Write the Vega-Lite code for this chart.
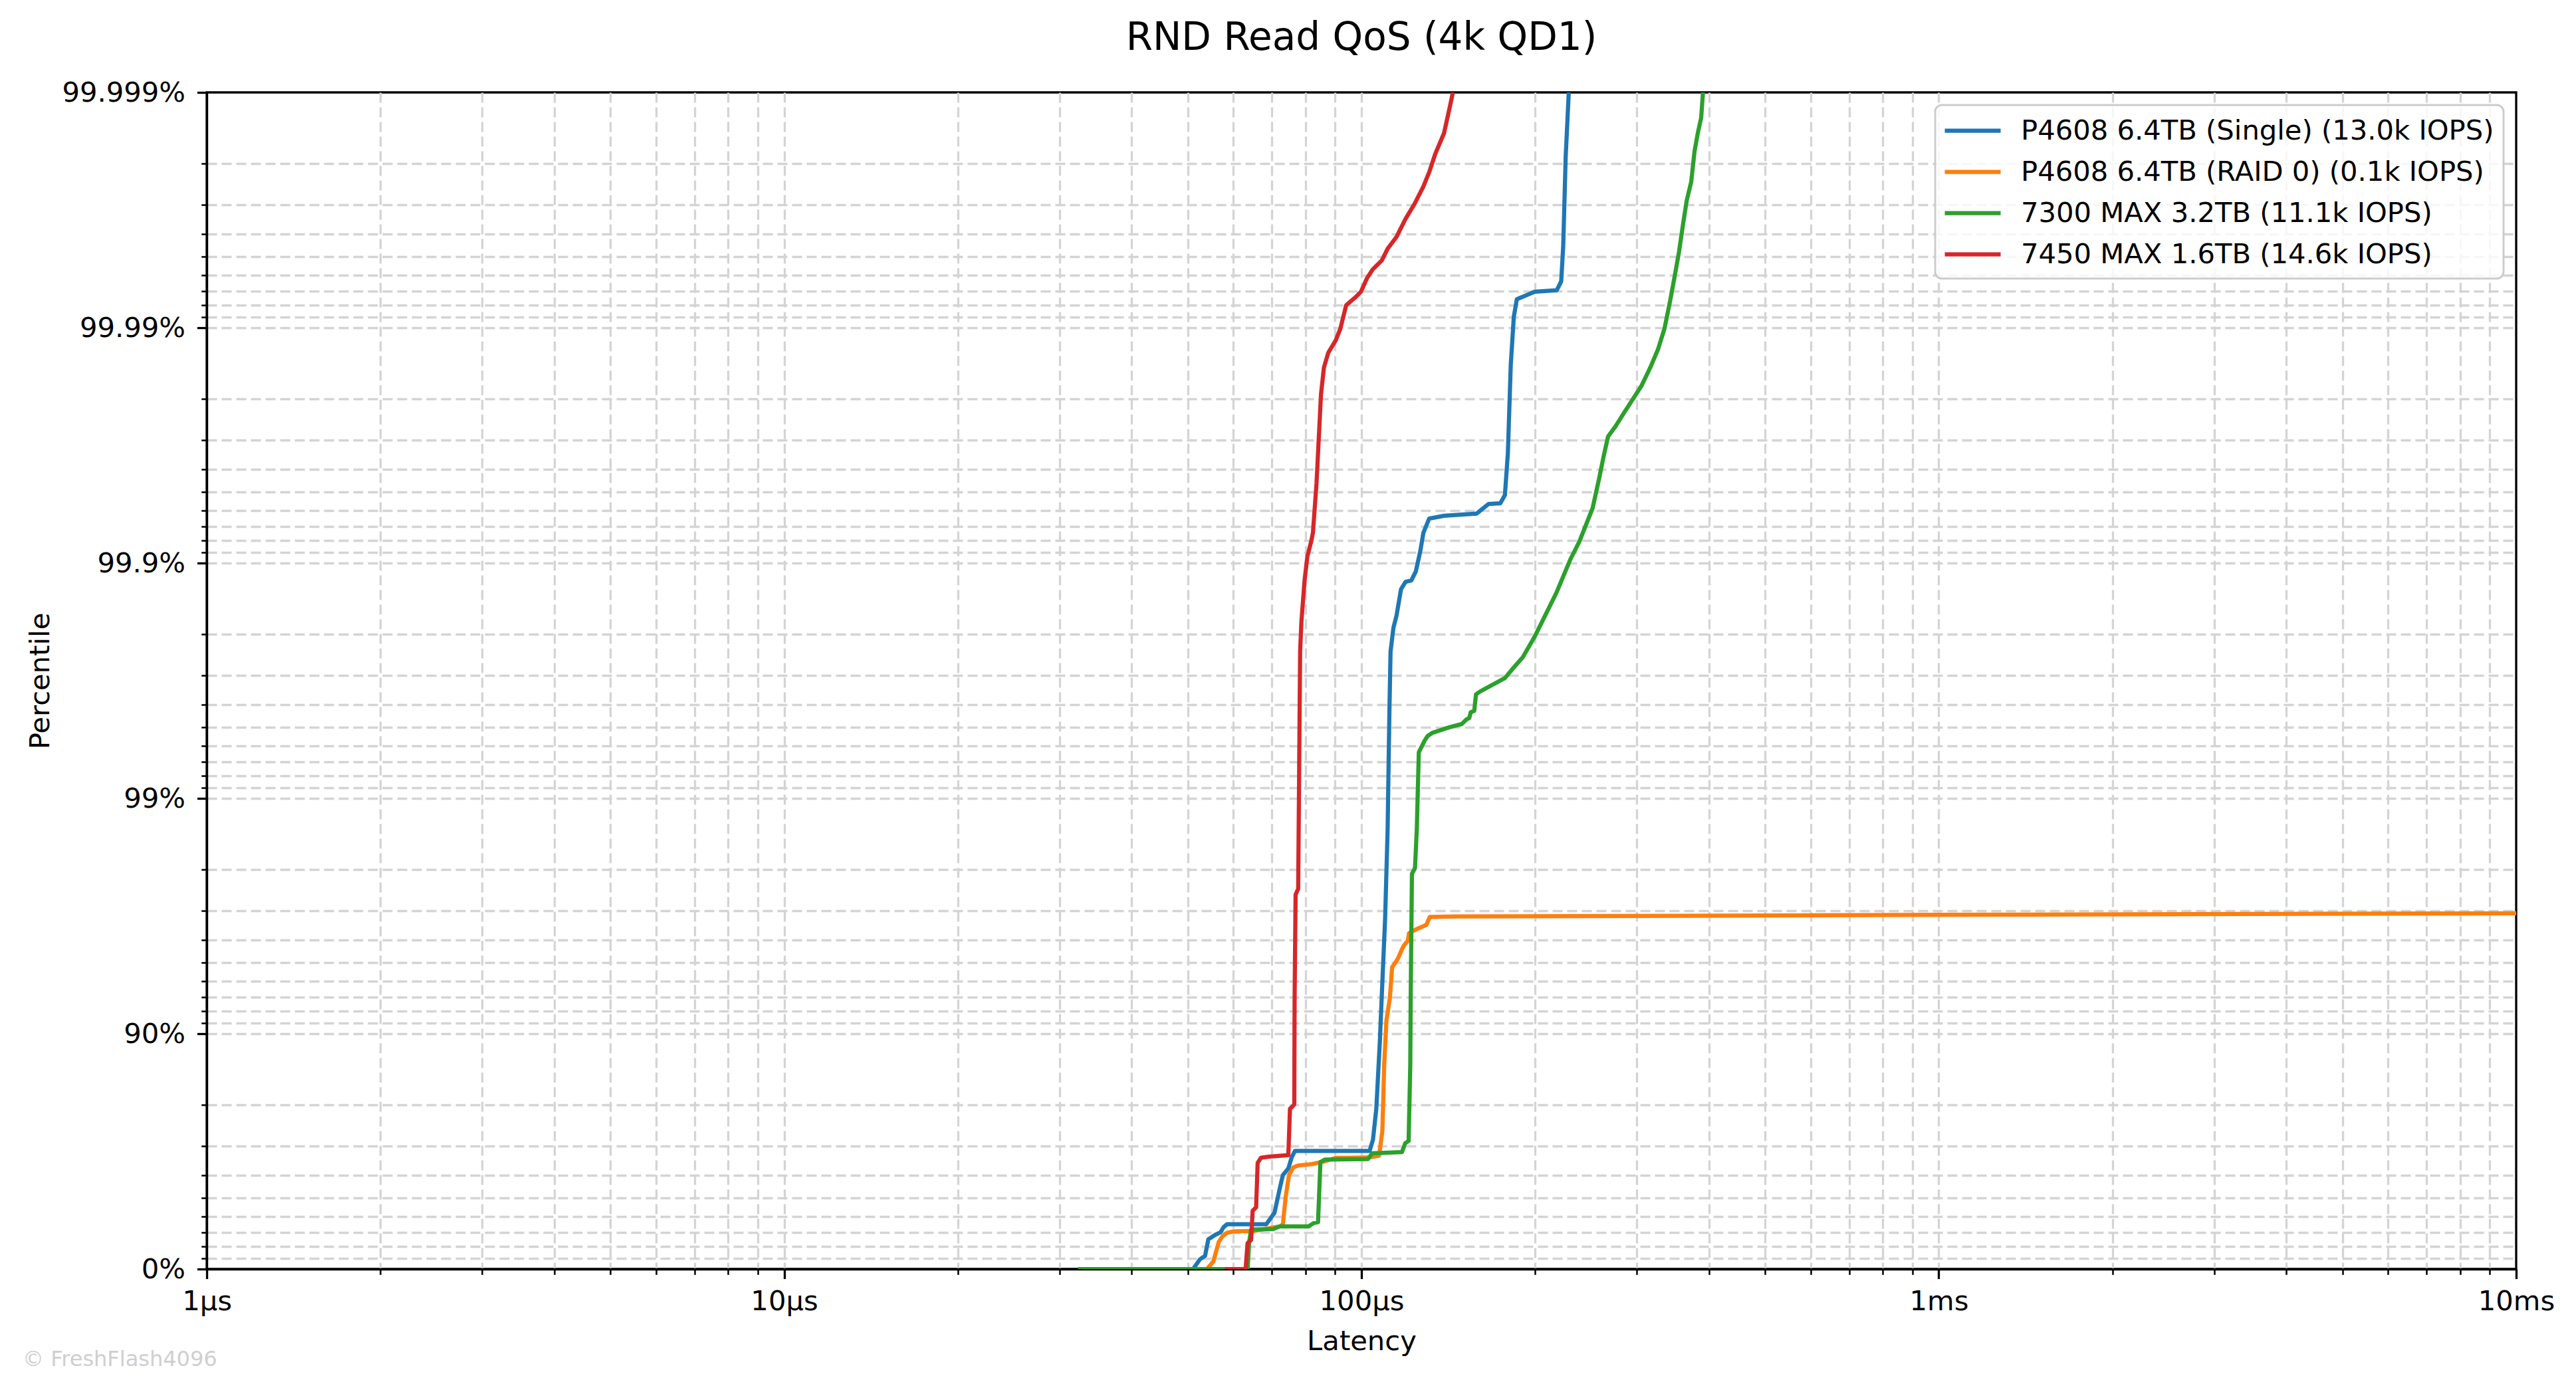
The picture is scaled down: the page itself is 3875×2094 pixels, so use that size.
{
  "$schema": "https://vega.github.io/schema/vega-lite/v6.json",
  "padding": {"left": 32, "top": 29, "right": 0, "bottom": 0},
  "background": "white",
  "title": {
    "text": "RND Read QoS (4k QD1)",
    "font": "DejaVu Sans",
    "fontSize": 58,
    "fontWeight": "normal",
    "color": "black",
    "baseline": "alphabetic",
    "anchor": "middle",
    "frame": "group",
    "offset": -16
  },
  "config": {
    "font": "DejaVu Sans",
    "view": {"stroke": "black", "strokeWidth": 3.3},
    "axis": {
      "labelFont": "DejaVu Sans",
      "labelFontSize": 41.7,
      "labelColor": "black",
      "labelLimit": 500,
      "titleFont": "DejaVu Sans",
      "titleFontSize": 41.7,
      "titleFontWeight": "normal",
      "titleColor": "black",
      "domainColor": "black",
      "domainWidth": 3.3,
      "tickColor": "black",
      "grid": true,
      "gridColor": "#d4d4d4",
      "gridDash": [15, 7],
      "gridWidth": 3.3,
      "labelOverlap": false,
      "labelFlush": false,
      "labelBound": false
    },
    "legend": {
      "labelFont": "DejaVu Sans",
      "labelFontSize": 41.7,
      "labelColor": "black",
      "labelLimit": 2000,
      "strokeWidth": 3
    }
  },
  "datasets": {
    "qos": [
      {"drive": "P4608 6.4TB (Single) (13.0k IOPS)", "us": 40, "nines": 0},
      {"drive": "P4608 6.4TB (Single) (13.0k IOPS)", "us": 51.1, "nines": 0},
      {"drive": "P4608 6.4TB (Single) (13.0k IOPS)", "us": 52.5, "nines": 0.041},
      {"drive": "P4608 6.4TB (Single) (13.0k IOPS)", "us": 53.6, "nines": 0.056},
      {"drive": "P4608 6.4TB (Single) (13.0k IOPS)", "us": 54.3, "nines": 0.126},
      {"drive": "P4608 6.4TB (Single) (13.0k IOPS)", "us": 55.8, "nines": 0.145},
      {"drive": "P4608 6.4TB (Single) (13.0k IOPS)", "us": 57.0, "nines": 0.156},
      {"drive": "P4608 6.4TB (Single) (13.0k IOPS)", "us": 57.7, "nines": 0.178},
      {"drive": "P4608 6.4TB (Single) (13.0k IOPS)", "us": 58.5, "nines": 0.19},
      {"drive": "P4608 6.4TB (Single) (13.0k IOPS)", "us": 68.4, "nines": 0.19},
      {"drive": "P4608 6.4TB (Single) (13.0k IOPS)", "us": 70.7, "nines": 0.239},
      {"drive": "P4608 6.4TB (Single) (13.0k IOPS)", "us": 72.2, "nines": 0.343},
      {"drive": "P4608 6.4TB (Single) (13.0k IOPS)", "us": 73.1, "nines": 0.399},
      {"drive": "P4608 6.4TB (Single) (13.0k IOPS)", "us": 74.7, "nines": 0.427},
      {"drive": "P4608 6.4TB (Single) (13.0k IOPS)", "us": 75.7, "nines": 0.474},
      {"drive": "P4608 6.4TB (Single) (13.0k IOPS)", "us": 76.7, "nines": 0.502},
      {"drive": "P4608 6.4TB (Single) (13.0k IOPS)", "us": 103.3, "nines": 0.502},
      {"drive": "P4608 6.4TB (Single) (13.0k IOPS)", "us": 104.7, "nines": 0.55},
      {"drive": "P4608 6.4TB (Single) (13.0k IOPS)", "us": 106.1, "nines": 0.681},
      {"drive": "P4608 6.4TB (Single) (13.0k IOPS)", "us": 107.6, "nines": 0.964},
      {"drive": "P4608 6.4TB (Single) (13.0k IOPS)", "us": 108.4, "nines": 1.152},
      {"drive": "P4608 6.4TB (Single) (13.0k IOPS)", "us": 109.9, "nines": 1.49},
      {"drive": "P4608 6.4TB (Single) (13.0k IOPS)", "us": 111.0, "nines": 1.868},
      {"drive": "P4608 6.4TB (Single) (13.0k IOPS)", "us": 111.8, "nines": 2.372},
      {"drive": "P4608 6.4TB (Single) (13.0k IOPS)", "us": 112.3, "nines": 2.624},
      {"drive": "P4608 6.4TB (Single) (13.0k IOPS)", "us": 113.6, "nines": 2.725},
      {"drive": "P4608 6.4TB (Single) (13.0k IOPS)", "us": 115.0, "nines": 2.776},
      {"drive": "P4608 6.4TB (Single) (13.0k IOPS)", "us": 117.1, "nines": 2.889},
      {"drive": "P4608 6.4TB (Single) (13.0k IOPS)", "us": 119.2, "nines": 2.92},
      {"drive": "P4608 6.4TB (Single) (13.0k IOPS)", "us": 122.0, "nines": 2.926},
      {"drive": "P4608 6.4TB (Single) (13.0k IOPS)", "us": 124.2, "nines": 2.964},
      {"drive": "P4608 6.4TB (Single) (13.0k IOPS)", "us": 126.5, "nines": 3.053},
      {"drive": "P4608 6.4TB (Single) (13.0k IOPS)", "us": 128.0, "nines": 3.128},
      {"drive": "P4608 6.4TB (Single) (13.0k IOPS)", "us": 131.0, "nines": 3.189},
      {"drive": "P4608 6.4TB (Single) (13.0k IOPS)", "us": 139.0, "nines": 3.201},
      {"drive": "P4608 6.4TB (Single) (13.0k IOPS)", "us": 158.3, "nines": 3.21},
      {"drive": "P4608 6.4TB (Single) (13.0k IOPS)", "us": 161.2, "nines": 3.226},
      {"drive": "P4608 6.4TB (Single) (13.0k IOPS)", "us": 166.0, "nines": 3.251},
      {"drive": "P4608 6.4TB (Single) (13.0k IOPS)", "us": 174.0, "nines": 3.254},
      {"drive": "P4608 6.4TB (Single) (13.0k IOPS)", "us": 177.2, "nines": 3.289},
      {"drive": "P4608 6.4TB (Single) (13.0k IOPS)", "us": 179.3, "nines": 3.466},
      {"drive": "P4608 6.4TB (Single) (13.0k IOPS)", "us": 181.4, "nines": 3.844},
      {"drive": "P4608 6.4TB (Single) (13.0k IOPS)", "us": 183.6, "nines": 4.046},
      {"drive": "P4608 6.4TB (Single) (13.0k IOPS)", "us": 185.8, "nines": 4.121},
      {"drive": "P4608 6.4TB (Single) (13.0k IOPS)", "us": 199.5, "nines": 4.153},
      {"drive": "P4608 6.4TB (Single) (13.0k IOPS)", "us": 217.9, "nines": 4.159},
      {"drive": "P4608 6.4TB (Single) (13.0k IOPS)", "us": 221.8, "nines": 4.197},
      {"drive": "P4608 6.4TB (Single) (13.0k IOPS)", "us": 223.6, "nines": 4.348},
      {"drive": "P4608 6.4TB (Single) (13.0k IOPS)", "us": 225.8, "nines": 4.726},
      {"drive": "P4608 6.4TB (Single) (13.0k IOPS)", "us": 228.5, "nines": 4.991},
      {"drive": "P4608 6.4TB (Single) (13.0k IOPS)", "us": 229.0, "nines": 5.0},

      {"drive": "P4608 6.4TB (RAID 0) (0.1k IOPS)", "us": 45, "nines": 0},
      {"drive": "P4608 6.4TB (RAID 0) (0.1k IOPS)", "us": 54.0, "nines": 0},
      {"drive": "P4608 6.4TB (RAID 0) (0.1k IOPS)", "us": 55.4, "nines": 0.032},
      {"drive": "P4608 6.4TB (RAID 0) (0.1k IOPS)", "us": 56.6, "nines": 0.115},
      {"drive": "P4608 6.4TB (RAID 0) (0.1k IOPS)", "us": 57.4, "nines": 0.138},
      {"drive": "P4608 6.4TB (RAID 0) (0.1k IOPS)", "us": 58.5, "nines": 0.154},
      {"drive": "P4608 6.4TB (RAID 0) (0.1k IOPS)", "us": 60.1, "nines": 0.16},
      {"drive": "P4608 6.4TB (RAID 0) (0.1k IOPS)", "us": 65.2, "nines": 0.162},
      {"drive": "P4608 6.4TB (RAID 0) (0.1k IOPS)", "us": 72.2, "nines": 0.181},
      {"drive": "P4608 6.4TB (RAID 0) (0.1k IOPS)", "us": 73.1, "nines": 0.19},
      {"drive": "P4608 6.4TB (RAID 0) (0.1k IOPS)", "us": 73.9, "nines": 0.305},
      {"drive": "P4608 6.4TB (RAID 0) (0.1k IOPS)", "us": 74.9, "nines": 0.399},
      {"drive": "P4608 6.4TB (RAID 0) (0.1k IOPS)", "us": 76.2, "nines": 0.432},
      {"drive": "P4608 6.4TB (RAID 0) (0.1k IOPS)", "us": 77.7, "nines": 0.44},
      {"drive": "P4608 6.4TB (RAID 0) (0.1k IOPS)", "us": 82.1, "nines": 0.446},
      {"drive": "P4608 6.4TB (RAID 0) (0.1k IOPS)", "us": 86.1, "nines": 0.457},
      {"drive": "P4608 6.4TB (RAID 0) (0.1k IOPS)", "us": 90.2, "nines": 0.472},
      {"drive": "P4608 6.4TB (RAID 0) (0.1k IOPS)", "us": 103.3, "nines": 0.474},
      {"drive": "P4608 6.4TB (RAID 0) (0.1k IOPS)", "us": 107.3, "nines": 0.482},
      {"drive": "P4608 6.4TB (RAID 0) (0.1k IOPS)", "us": 108.7, "nines": 0.587},
      {"drive": "P4608 6.4TB (RAID 0) (0.1k IOPS)", "us": 109.5, "nines": 0.87},
      {"drive": "P4608 6.4TB (RAID 0) (0.1k IOPS)", "us": 110.5, "nines": 1.058},
      {"drive": "P4608 6.4TB (RAID 0) (0.1k IOPS)", "us": 112.0, "nines": 1.152},
      {"drive": "P4608 6.4TB (RAID 0) (0.1k IOPS)", "us": 113.0, "nines": 1.282},
      {"drive": "P4608 6.4TB (RAID 0) (0.1k IOPS)", "us": 115.7, "nines": 1.32},
      {"drive": "P4608 6.4TB (RAID 0) (0.1k IOPS)", "us": 117.5, "nines": 1.358},
      {"drive": "P4608 6.4TB (RAID 0) (0.1k IOPS)", "us": 118.5, "nines": 1.376},
      {"drive": "P4608 6.4TB (RAID 0) (0.1k IOPS)", "us": 120.3, "nines": 1.395},
      {"drive": "P4608 6.4TB (RAID 0) (0.1k IOPS)", "us": 120.9, "nines": 1.427},
      {"drive": "P4608 6.4TB (RAID 0) (0.1k IOPS)", "us": 125.0, "nines": 1.446},
      {"drive": "P4608 6.4TB (RAID 0) (0.1k IOPS)", "us": 129.5, "nines": 1.462},
      {"drive": "P4608 6.4TB (RAID 0) (0.1k IOPS)", "us": 131.3, "nines": 1.496},
      {"drive": "P4608 6.4TB (RAID 0) (0.1k IOPS)", "us": 145.7, "nines": 1.498},
      {"drive": "P4608 6.4TB (RAID 0) (0.1k IOPS)", "us": 1000, "nines": 1.505},
      {"drive": "P4608 6.4TB (RAID 0) (0.1k IOPS)", "us": 10000, "nines": 1.512},

      {"drive": "7300 MAX 3.2TB (11.1k IOPS)", "us": 32.3, "nines": 0},
      {"drive": "7300 MAX 3.2TB (11.1k IOPS)", "us": 63.5, "nines": 0},
      {"drive": "7300 MAX 3.2TB (11.1k IOPS)", "us": 63.9, "nines": 0.115},
      {"drive": "7300 MAX 3.2TB (11.1k IOPS)", "us": 64.4, "nines": 0.168},
      {"drive": "7300 MAX 3.2TB (11.1k IOPS)", "us": 70.3, "nines": 0.17},
      {"drive": "7300 MAX 3.2TB (11.1k IOPS)", "us": 72.2, "nines": 0.181},
      {"drive": "7300 MAX 3.2TB (11.1k IOPS)", "us": 81.0, "nines": 0.181},
      {"drive": "7300 MAX 3.2TB (11.1k IOPS)", "us": 82.6, "nines": 0.195},
      {"drive": "7300 MAX 3.2TB (11.1k IOPS)", "us": 84.1, "nines": 0.199},
      {"drive": "7300 MAX 3.2TB (11.1k IOPS)", "us": 84.9, "nines": 0.455},
      {"drive": "7300 MAX 3.2TB (11.1k IOPS)", "us": 86.4, "nines": 0.465},
      {"drive": "7300 MAX 3.2TB (11.1k IOPS)", "us": 102.6, "nines": 0.467},
      {"drive": "7300 MAX 3.2TB (11.1k IOPS)", "us": 104.4, "nines": 0.492},
      {"drive": "7300 MAX 3.2TB (11.1k IOPS)", "us": 117.5, "nines": 0.497},
      {"drive": "7300 MAX 3.2TB (11.1k IOPS)", "us": 119.1, "nines": 0.535},
      {"drive": "7300 MAX 3.2TB (11.1k IOPS)", "us": 120.7, "nines": 0.544},
      {"drive": "7300 MAX 3.2TB (11.1k IOPS)", "us": 121.5, "nines": 0.87},
      {"drive": "7300 MAX 3.2TB (11.1k IOPS)", "us": 121.7, "nines": 1.152},
      {"drive": "7300 MAX 3.2TB (11.1k IOPS)", "us": 122.3, "nines": 1.679},
      {"drive": "7300 MAX 3.2TB (11.1k IOPS)", "us": 123.8, "nines": 1.704},
      {"drive": "7300 MAX 3.2TB (11.1k IOPS)", "us": 124.7, "nines": 1.868},
      {"drive": "7300 MAX 3.2TB (11.1k IOPS)", "us": 125.7, "nines": 2.196},
      {"drive": "7300 MAX 3.2TB (11.1k IOPS)", "us": 127.2, "nines": 2.221},
      {"drive": "7300 MAX 3.2TB (11.1k IOPS)", "us": 128.7, "nines": 2.246},
      {"drive": "7300 MAX 3.2TB (11.1k IOPS)", "us": 130.2, "nines": 2.265},
      {"drive": "7300 MAX 3.2TB (11.1k IOPS)", "us": 132.6, "nines": 2.278},
      {"drive": "7300 MAX 3.2TB (11.1k IOPS)", "us": 142.3, "nines": 2.303},
      {"drive": "7300 MAX 3.2TB (11.1k IOPS)", "us": 149.2, "nines": 2.316},
      {"drive": "7300 MAX 3.2TB (11.1k IOPS)", "us": 151.9, "nines": 2.335},
      {"drive": "7300 MAX 3.2TB (11.1k IOPS)", "us": 153.7, "nines": 2.341},
      {"drive": "7300 MAX 3.2TB (11.1k IOPS)", "us": 154.6, "nines": 2.366},
      {"drive": "7300 MAX 3.2TB (11.1k IOPS)", "us": 156.8, "nines": 2.372},
      {"drive": "7300 MAX 3.2TB (11.1k IOPS)", "us": 157.9, "nines": 2.442},
      {"drive": "7300 MAX 3.2TB (11.1k IOPS)", "us": 160.5, "nines": 2.454},
      {"drive": "7300 MAX 3.2TB (11.1k IOPS)", "us": 177.2, "nines": 2.511},
      {"drive": "7300 MAX 3.2TB (11.1k IOPS)", "us": 182.5, "nines": 2.549},
      {"drive": "7300 MAX 3.2TB (11.1k IOPS)", "us": 190.2, "nines": 2.599},
      {"drive": "7300 MAX 3.2TB (11.1k IOPS)", "us": 199.5, "nines": 2.687},
      {"drive": "7300 MAX 3.2TB (11.1k IOPS)", "us": 210.4, "nines": 2.801},
      {"drive": "7300 MAX 3.2TB (11.1k IOPS)", "us": 217.9, "nines": 2.877},
      {"drive": "7300 MAX 3.2TB (11.1k IOPS)", "us": 230.1, "nines": 3.016},
      {"drive": "7300 MAX 3.2TB (11.1k IOPS)", "us": 238.4, "nines": 3.091},
      {"drive": "7300 MAX 3.2TB (11.1k IOPS)", "us": 251.4, "nines": 3.233},
      {"drive": "7300 MAX 3.2TB (11.1k IOPS)", "us": 258.2, "nines": 3.363},
      {"drive": "7300 MAX 3.2TB (11.1k IOPS)", "us": 262.7, "nines": 3.454},
      {"drive": "7300 MAX 3.2TB (11.1k IOPS)", "us": 267.4, "nines": 3.538},
      {"drive": "7300 MAX 3.2TB (11.1k IOPS)", "us": 275.8, "nines": 3.583},
      {"drive": "7300 MAX 3.2TB (11.1k IOPS)", "us": 284.4, "nines": 3.635},
      {"drive": "7300 MAX 3.2TB (11.1k IOPS)", "us": 294.7, "nines": 3.694},
      {"drive": "7300 MAX 3.2TB (11.1k IOPS)", "us": 305.3, "nines": 3.752},
      {"drive": "7300 MAX 3.2TB (11.1k IOPS)", "us": 316.3, "nines": 3.83},
      {"drive": "7300 MAX 3.2TB (11.1k IOPS)", "us": 326.3, "nines": 3.908},
      {"drive": "7300 MAX 3.2TB (11.1k IOPS)", "us": 335.0, "nines": 3.998},
      {"drive": "7300 MAX 3.2TB (11.1k IOPS)", "us": 342.5, "nines": 4.115},
      {"drive": "7300 MAX 3.2TB (11.1k IOPS)", "us": 348.7, "nines": 4.218},
      {"drive": "7300 MAX 3.2TB (11.1k IOPS)", "us": 354.8, "nines": 4.322},
      {"drive": "7300 MAX 3.2TB (11.1k IOPS)", "us": 361.2, "nines": 4.452},
      {"drive": "7300 MAX 3.2TB (11.1k IOPS)", "us": 366.0, "nines": 4.542},
      {"drive": "7300 MAX 3.2TB (11.1k IOPS)", "us": 372.5, "nines": 4.62},
      {"drive": "7300 MAX 3.2TB (11.1k IOPS)", "us": 377.5, "nines": 4.75},
      {"drive": "7300 MAX 3.2TB (11.1k IOPS)", "us": 382.5, "nines": 4.828},
      {"drive": "7300 MAX 3.2TB (11.1k IOPS)", "us": 387.6, "nines": 4.892},
      {"drive": "7300 MAX 3.2TB (11.1k IOPS)", "us": 390.4, "nines": 5.0},

      {"drive": "7450 MAX 1.6TB (14.6k IOPS)", "us": 58.0, "nines": 0},
      {"drive": "7450 MAX 1.6TB (14.6k IOPS)", "us": 63.0, "nines": 0},
      {"drive": "7450 MAX 1.6TB (14.6k IOPS)", "us": 63.5, "nines": 0.11},
      {"drive": "7450 MAX 1.6TB (14.6k IOPS)", "us": 64.4, "nines": 0.124},
      {"drive": "7450 MAX 1.6TB (14.6k IOPS)", "us": 64.8, "nines": 0.248},
      {"drive": "7450 MAX 1.6TB (14.6k IOPS)", "us": 65.7, "nines": 0.262},
      {"drive": "7450 MAX 1.6TB (14.6k IOPS)", "us": 66.1, "nines": 0.451},
      {"drive": "7450 MAX 1.6TB (14.6k IOPS)", "us": 67.0, "nines": 0.473},
      {"drive": "7450 MAX 1.6TB (14.6k IOPS)", "us": 68.9, "nines": 0.477},
      {"drive": "7450 MAX 1.6TB (14.6k IOPS)", "us": 74.7, "nines": 0.484},
      {"drive": "7450 MAX 1.6TB (14.6k IOPS)", "us": 75.2, "nines": 0.681},
      {"drive": "7450 MAX 1.6TB (14.6k IOPS)", "us": 75.9, "nines": 0.69},
      {"drive": "7450 MAX 1.6TB (14.6k IOPS)", "us": 76.5, "nines": 0.7},
      {"drive": "7450 MAX 1.6TB (14.6k IOPS)", "us": 76.6, "nines": 1.152},
      {"drive": "7450 MAX 1.6TB (14.6k IOPS)", "us": 76.9, "nines": 1.591},
      {"drive": "7450 MAX 1.6TB (14.6k IOPS)", "us": 77.7, "nines": 1.616},
      {"drive": "7450 MAX 1.6TB (14.6k IOPS)", "us": 78.0, "nines": 2.12},
      {"drive": "7450 MAX 1.6TB (14.6k IOPS)", "us": 78.3, "nines": 2.624},
      {"drive": "7450 MAX 1.6TB (14.6k IOPS)", "us": 78.7, "nines": 2.75},
      {"drive": "7450 MAX 1.6TB (14.6k IOPS)", "us": 79.7, "nines": 2.926},
      {"drive": "7450 MAX 1.6TB (14.6k IOPS)", "us": 80.6, "nines": 3.028},
      {"drive": "7450 MAX 1.6TB (14.6k IOPS)", "us": 81.8, "nines": 3.09},
      {"drive": "7450 MAX 1.6TB (14.6k IOPS)", "us": 82.4, "nines": 3.128},
      {"drive": "7450 MAX 1.6TB (14.6k IOPS)", "us": 83.6, "nines": 3.34},
      {"drive": "7450 MAX 1.6TB (14.6k IOPS)", "us": 85.1, "nines": 3.718},
      {"drive": "7450 MAX 1.6TB (14.6k IOPS)", "us": 86.1, "nines": 3.831},
      {"drive": "7450 MAX 1.6TB (14.6k IOPS)", "us": 87.6, "nines": 3.894},
      {"drive": "7450 MAX 1.6TB (14.6k IOPS)", "us": 90.2, "nines": 3.945},
      {"drive": "7450 MAX 1.6TB (14.6k IOPS)", "us": 91.9, "nines": 3.995},
      {"drive": "7450 MAX 1.6TB (14.6k IOPS)", "us": 94.1, "nines": 4.096},
      {"drive": "7450 MAX 1.6TB (14.6k IOPS)", "us": 97.5, "nines": 4.128},
      {"drive": "7450 MAX 1.6TB (14.6k IOPS)", "us": 99.8, "nines": 4.153},
      {"drive": "7450 MAX 1.6TB (14.6k IOPS)", "us": 102.2, "nines": 4.21},
      {"drive": "7450 MAX 1.6TB (14.6k IOPS)", "us": 104.6, "nines": 4.248},
      {"drive": "7450 MAX 1.6TB (14.6k IOPS)", "us": 108.4, "nines": 4.285},
      {"drive": "7450 MAX 1.6TB (14.6k IOPS)", "us": 111.0, "nines": 4.336},
      {"drive": "7450 MAX 1.6TB (14.6k IOPS)", "us": 115.0, "nines": 4.386},
      {"drive": "7450 MAX 1.6TB (14.6k IOPS)", "us": 119.2, "nines": 4.462},
      {"drive": "7450 MAX 1.6TB (14.6k IOPS)", "us": 123.5, "nines": 4.525},
      {"drive": "7450 MAX 1.6TB (14.6k IOPS)", "us": 128.0, "nines": 4.6},
      {"drive": "7450 MAX 1.6TB (14.6k IOPS)", "us": 131.1, "nines": 4.663},
      {"drive": "7450 MAX 1.6TB (14.6k IOPS)", "us": 134.2, "nines": 4.738},
      {"drive": "7450 MAX 1.6TB (14.6k IOPS)", "us": 139.0, "nines": 4.827},
      {"drive": "7450 MAX 1.6TB (14.6k IOPS)", "us": 142.3, "nines": 4.94},
      {"drive": "7450 MAX 1.6TB (14.6k IOPS)", "us": 144.0, "nines": 5.0}
    ]
  },
  "vconcat": [
    {
      "width": 3474,
      "height": 1770,
      "title": {
        "text": "© FreshFlash4096",
        "orient": "bottom",
        "anchor": "start",
        "frame": "bounds",
        "font": "DejaVu Sans",
        "fontSize": 32,
        "fontWeight": "normal",
        "color": "#cfcfcf",
        "offset": -9,
        "dx": -6
      },
      "data": {"name": "qos"},
      "mark": {"type": "line", "strokeWidth": 6.25, "clip": true, "strokeJoin": "round"},
      "encoding": {
        "x": {
          "field": "us",
          "type": "quantitative",
          "scale": {"type": "log", "domain": [1, 10000], "nice": false},
          "axis": {
            "title": "Latency",
            "titlePadding": 18,
            "labelPadding": 14,
            "values": [1, 2, 3, 4, 5, 6, 7, 8, 9, 10, 20, 30, 40, 50, 60, 70, 80, 90, 100, 200, 300, 400, 500, 600, 700, 800, 900, 1000, 2000, 3000, 4000, 5000, 6000, 7000, 8000, 9000, 10000],
            "labelExpr": "datum.value == 1 ? '1µs' : datum.value == 10 ? '10µs' : datum.value == 100 ? '100µs' : datum.value == 1000 ? '1ms' : datum.value == 10000 ? '10ms' : ''",
            "tickSize": {"condition": {"test": "indexof([1, 10, 100, 1000, 10000], datum.value) >= 0", "value": 14.6}, "value": 8.3},
            "tickWidth": {"condition": {"test": "indexof([1, 10, 100, 1000, 10000], datum.value) >= 0", "value": 3.3}, "value": 2.5},
            "gridOpacity": {"condition": {"test": "datum.value == 1 || datum.value == 10000", "value": 0}, "value": 1}
          }
        },
        "y": {
          "field": "nines",
          "type": "quantitative",
          "scale": {"domain": [0, 5], "nice": false, "zero": false},
          "axis": {
            "title": "Percentile",
            "titlePadding": 29,
            "labelPadding": 18,
            "values": [0, 0.0458, 0.0969, 0.1549, 0.2218, 0.301, 0.3979, 0.5229, 0.699, 1, 1.0458, 1.0969, 1.1549, 1.2218, 1.301, 1.3979, 1.5229, 1.699, 2, 2.0458, 2.0969, 2.1549, 2.2218, 2.301, 2.3979, 2.5229, 2.699, 3, 3.0458, 3.0969, 3.1549, 3.2218, 3.301, 3.3979, 3.5229, 3.699, 4, 4.0458, 4.0969, 4.1549, 4.2218, 4.301, 4.3979, 4.5229, 4.699, 5],
            "labelExpr": "datum.value == 0 ? '0%' : datum.value == 1 ? '90%' : datum.value == 2 ? '99%' : datum.value == 3 ? '99.9%' : datum.value == 4 ? '99.99%' : datum.value == 5 ? '99.999%' : ''",
            "tickSize": {"condition": {"test": "datum.value == round(datum.value)", "value": 14.6}, "value": 8.3},
            "tickWidth": {"condition": {"test": "datum.value == round(datum.value)", "value": 3.3}, "value": 2.5},
            "gridOpacity": {"condition": {"test": "datum.value == 0 || datum.value == 5", "value": 0}, "value": 1}
          }
        },
        "color": {
          "field": "drive",
          "type": "nominal",
          "scale": {
            "domain": ["P4608 6.4TB (Single) (13.0k IOPS)", "P4608 6.4TB (RAID 0) (0.1k IOPS)", "7300 MAX 3.2TB (11.1k IOPS)", "7450 MAX 1.6TB (14.6k IOPS)"],
            "range": ["#1f77b4", "#ff7f0e", "#2ca02c", "#d62728"]
          },
          "legend": {
            "title": null,
            "orient": "top-right",
            "offset": 19,
            "symbolType": "M-2,0H2",
            "symbolStrokeWidth": 6.25,
            "symbolSize": 1764,
            "symbolOffset": 18,
            "labelOffset": 48,
            "rowPadding": 15,
            "padding": 14,
            "strokeColor": "#cccccc",
            "fillColor": "rgba(255,255,255,0.8)",
            "cornerRadius": 10
          }
        }
      }
    }
  ]
}
